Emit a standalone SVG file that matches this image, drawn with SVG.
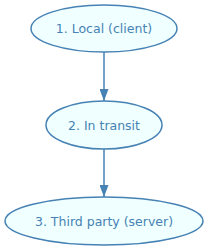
<svg xmlns="http://www.w3.org/2000/svg" width="208" height="251" viewBox="0 0 208 251">
<defs>
<style>
.node ellipse{fill:#f0ffff;stroke:#4682b4;stroke-width:1.5}
.node text{font-family:"DejaVu Sans",sans-serif;font-size:12.5px;fill:#4682b4;text-anchor:middle}
.edge{stroke:#4682b4;stroke-width:1.5;fill:none}
</style>
<marker id="arr" viewBox="0 0 12 9" refX="12" refY="4.5" markerWidth="12" markerHeight="9" markerUnits="userSpaceOnUse" orient="auto">
<path d="M0,0 L12,4.5 L0,9 z" fill="#4682b4"/>
</marker>
</defs>
<g id="connectors">
<path class="edge" d="M104,52 L104,101" marker-end="url(#arr)"/>
<path class="edge" d="M104,149 L104,197" marker-end="url(#arr)"/>
</g>
<g id="n1" class="node"><ellipse cx="104" cy="28.5" rx="73" ry="23.5"/><text x="104" y="33">1. Local (client)</text></g>
<g id="n2" class="node"><ellipse cx="104" cy="125" rx="58" ry="24"/><text x="104" y="129.5">2. In transit</text></g>
<g id="n3" class="node"><ellipse cx="104" cy="221" rx="99" ry="24"/><text x="104" y="225.5">3. Third party (server)</text></g>
</svg>
